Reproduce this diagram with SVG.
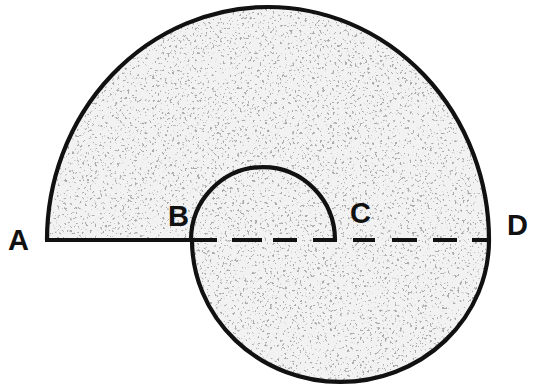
<svg xmlns="http://www.w3.org/2000/svg" width="533" height="392" viewBox="0 0 533 392">
<style>
.ln{fill:none;stroke:#111;stroke-width:4.2;stroke-linecap:butt}
.lb{font-family:"Liberation Sans",Arial,sans-serif;font-weight:bold;font-size:29px;fill:#111}
</style>
<defs>
<filter id="stip" x="0" y="0" width="100%" height="100%" filterUnits="objectBoundingBox">
<feTurbulence type="fractalNoise" baseFrequency="0.4" numOctaves="2" seed="7" result="n"/>
<feColorMatrix in="n" type="matrix" values="0 0 0 0 0.4  0 0 0 0 0.4  0 0 0 0 0.4  12 0 0 0 -7.4" result="d"/>
<feComposite in="d" in2="SourceGraphic" operator="in" result="dots"/>
<feMerge><feMergeNode in="SourceGraphic"/><feMergeNode in="dots"/></feMerge>
</filter>
</defs>
<rect width="533" height="392" fill="#fff"/>
<g id="shade">
<path d="M47,240 A221,233 0 0 1 489,240 A148.5,142 0 0 1 192,240 Z" fill="#f2f2f2" filter="url(#stip)"/>
</g>
<g id="connectors">
<path class="ln" d="M47,240 A221,233 0 0 1 489,240"/>
<path class="ln" d="M192,240 A148.5,142 0 0 0 489,240"/>
<path class="ln" d="M191,240 A72,73 0 0 1 335,240"/>
<path class="ln" d="M45,240 H217"/>
<path class="ln" d="M232,240 H262 M273,240 H297 M313,240 H337 M353,240 H375 M392,240 H417 M433,240 H457 M472,240 H489"/>
</g>
<g id="A"><text class="lb" x="8" y="250">A</text></g>
<g id="B"><text class="lb" x="168" y="226">B</text></g>
<g id="C"><text class="lb" x="350" y="223">C</text></g>
<g id="D"><text class="lb" x="507" y="235">D</text></g>
</svg>
